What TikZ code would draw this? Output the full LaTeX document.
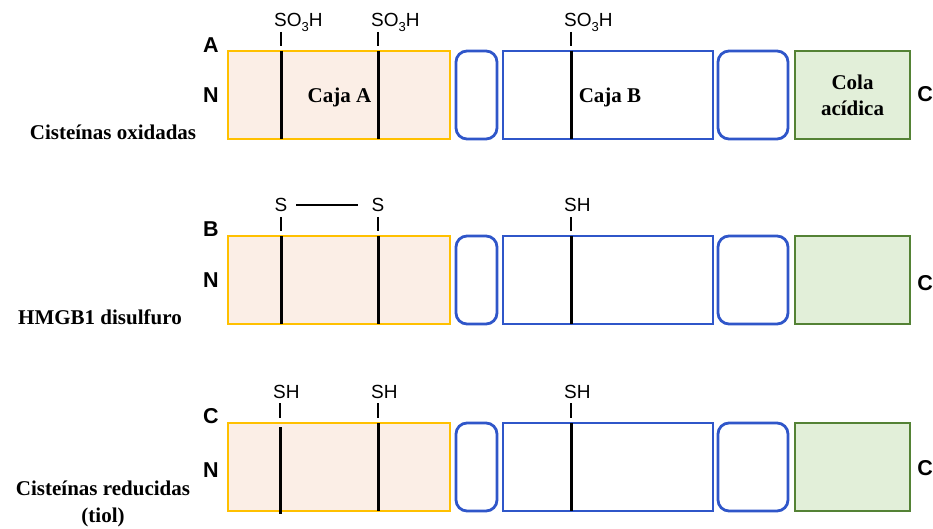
\documentclass[tikz,border=0pt]{standalone}
\usepackage{fontspec}
\setmainfont{Liberation Serif}
\newfontfamily\arialf{Liberation Sans}
\definecolor{peach}{HTML}{FBEEE6}
\definecolor{goldc}{HTML}{FFC000}
\definecolor{bluec}{HTML}{2F56C9}
\definecolor{greenc}{HTML}{548235}
\definecolor{greenf}{HTML}{E2EFD9}
\newcommand{\subthree}{\raisebox{-5pt}{\fontsize{13}{13}\selectfont 3}}
\begin{document}
\begin{tikzpicture}[x=1pt,y=-1pt,
  dom/.style={line width=2.8pt, minimum height=88pt, inner sep=0pt, outer sep=0pt},
  boxa/.style={dom, draw=goldc, fill=peach, minimum width=222pt},
  link/.style={dom, draw=bluec, rounded corners=11pt},
  boxb/.style={dom, draw=bluec, minimum width=210pt},
  tail/.style={dom, draw=greenc, fill=greenf, minimum width=115pt},
  cys/.style={line width=3pt, black},
  tickl/.style={line width=2pt, black},
  letter/.style={font=\arialf\bfseries\fontsize{21.5}{24}\selectfont, inner sep=0pt},
  grp/.style={font=\arialf\fontsize{19}{22}\selectfont, inner sep=0pt, anchor=base west},
  rowlab/.style={font=\bfseries\fontsize{21}{27}\selectfont, inner sep=0pt, align=center},
  boxlab/.style={font=\bfseries\fontsize{21}{26}\selectfont, align=center}
]
\useasboundingbox (0,0) rectangle (933,529);

% ---------- Row A ----------
\begin{scope}[shift={(0,51)}, name prefix=a-]
  \node[boxa] (boxA) at (339,44) {};
  \node[link, minimum width=41pt] (l1) at (476.5,44) {};
  \node[boxb] (boxB) at (608,44) {};
  \node[link, minimum width=70pt] (l2) at (753,44) {};
  \node[tail] (tail) at (852.5,44) {};
  \coordinate (c1t) at (281,0);  \coordinate (c1b) at (281,88);
  \coordinate (c2t) at (378,0);  \coordinate (c2b) at (378,88);
  \coordinate (c3t) at (571,0);  \coordinate (c3b) at (571,88);
  \coordinate (k1t) at (281,-19); \coordinate (k1b) at (281,-5);
  \coordinate (k2t) at (378,-19); \coordinate (k2b) at (378,-5);
  \coordinate (k3t) at (571,-19); \coordinate (k3b) at (571,-5);
  \draw[cys] (c1t) -- (c1b);
  \draw[cys] (c2t) -- (c2b);
  \draw[cys] (c3t) -- (c3b);
  \draw[tickl] (k1t) -- (k1b);
  \draw[tickl] (k2t) -- (k2b);
  \draw[tickl] (k3t) -- (k3b);
  \node[grp] (g1) at (274,-24.5) {SO\subthree H};
  \node[grp] (g2) at (371,-24.5) {SO\subthree H};
  \node[grp] (g3) at (564,-24.5) {SO\subthree H};
  \node[boxlab] (cajaA) at (339.5,46) {Caja A};
  \node[boxlab] (cajaB) at (610,46) {Caja B};
  \node[boxlab] (cola) at (852.5,44) {Cola\\acídica};
  \node[letter] (let) at (211,-6) {A};
  \node[letter] (N) at (211,44) {N};
  \node[letter] (C) at (925,43) {C};
  \node[rowlab] (lab) at (113,81) {Cisteínas oxidadas};
\end{scope}

% ---------- Row B ----------
\begin{scope}[shift={(0,236)}, name prefix=b-]
  \node[boxa] (boxA) at (339,44) {};
  \node[link, minimum width=41pt] (l1) at (476.5,44) {};
  \node[boxb] (boxB) at (608,44) {};
  \node[link, minimum width=70pt] (l2) at (753,44) {};
  \node[tail] (tail) at (852.5,44) {};
  \coordinate (c1t) at (281,0);  \coordinate (c1b) at (281,88);
  \coordinate (c2t) at (378,0);  \coordinate (c2b) at (378,88);
  \coordinate (c3t) at (571,0);  \coordinate (c3b) at (571,88);
  \coordinate (k1t) at (281,-19); \coordinate (k1b) at (281,-5);
  \coordinate (k2t) at (378,-19); \coordinate (k2b) at (378,-5);
  \coordinate (k3t) at (571,-19); \coordinate (k3b) at (571,-5);
  \draw[cys] (c1t) -- (c1b);
  \draw[cys] (c2t) -- (c2b);
  \draw[cys] (c3t) -- (c3b);
  \draw[tickl] (k1t) -- (k1b);
  \draw[tickl] (k2t) -- (k2b);
  \draw[tickl] (k3t) -- (k3b);
  \node[grp] (s1) at (274.5,-24.5) {S};
  \node[grp] (s2) at (371.5,-24.5) {S};
  \node[grp] (g3) at (564,-24.5) {SH};
  \coordinate (ssl) at (296,-31); \coordinate (ssr) at (358,-31);
  \draw[tickl] (ssl) -- (ssr);
  \node[letter] (let) at (211,-7) {B};
  \node[letter] (N) at (211,44) {N};
  \node[letter] (C) at (925,47) {C};
  \node[rowlab] (lab) at (100,81) {HMGB1 disulfuro};
\end{scope}

% ---------- Row C ----------
\begin{scope}[shift={(0,423)}, name prefix=c-]
  \node[boxa] (boxA) at (339,44) {};
  \node[link, minimum width=41pt] (l1) at (476.5,44) {};
  \node[boxb] (boxB) at (608,44) {};
  \node[link, minimum width=70pt] (l2) at (753,44) {};
  \node[tail] (tail) at (852.5,44) {};
  \coordinate (c1t) at (280,4);  \coordinate (c1b) at (280,91);
  \coordinate (c2t) at (378,0);  \coordinate (c2b) at (378,88);
  \coordinate (c3t) at (571,0);  \coordinate (c3b) at (571,88);
  \coordinate (k1t) at (280,-20); \coordinate (k1b) at (280,-5);
  \coordinate (k2t) at (378,-20); \coordinate (k2b) at (378,-5);
  \coordinate (k3t) at (571,-20); \coordinate (k3b) at (571,-5);
  \draw[cys] (c1t) -- (c1b);
  \draw[cys] (c2t) -- (c2b);
  \draw[cys] (c3t) -- (c3b);
  \draw[tickl] (k1t) -- (k1b);
  \draw[tickl] (k2t) -- (k2b);
  \draw[tickl] (k3t) -- (k3b);
  \node[grp] (g1) at (273,-25) {SH};
  \node[grp] (g2) at (371,-25) {SH};
  \node[grp] (g3) at (564,-25) {SH};
  \node[letter] (let) at (211,-7) {C};
  \node[letter] (N) at (211,47) {N};
  \node[letter] (C) at (925,45) {C};
  \node[rowlab] (lab) at (103,81) {Cisteínas reducidas\\(tiol)};
\end{scope}
\end{tikzpicture}
\end{document}
